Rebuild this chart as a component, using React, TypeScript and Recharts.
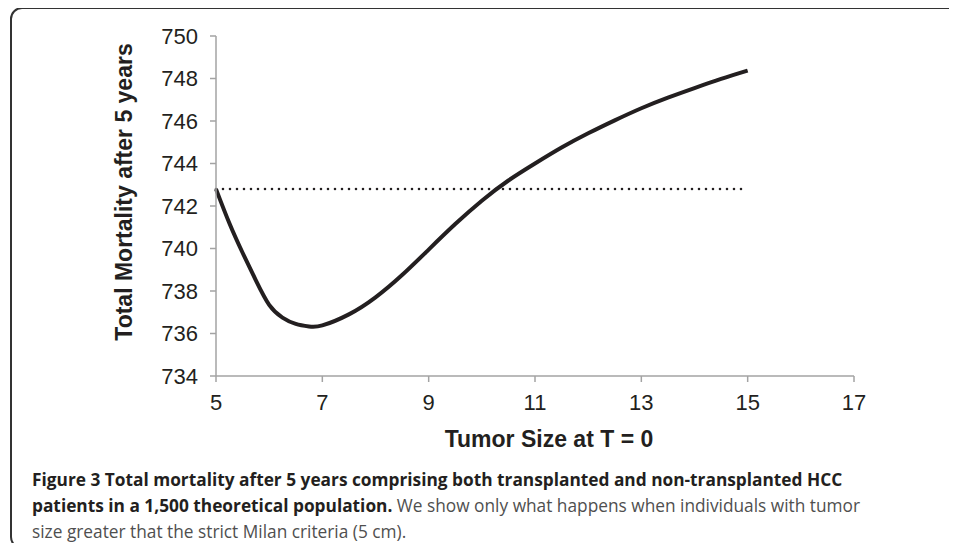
import { Line, LineChart, XAxis, YAxis } from 'recharts'

const tumorSize = [5, 5.25, 5.5, 5.75, 6, 6.25, 6.5, 6.75, 7, 7.5, 8, 8.5, 9, 9.5, 10, 10.5, 11, 11.5, 12, 12.5, 13, 13.5, 14, 14.5, 15]
const mortality = [742.8, 741.2, 739.8, 738.5, 737.35, 736.75, 736.45, 736.33, 736.38, 736.9, 737.7, 738.75, 739.95, 741.15, 742.25, 743.2, 744.0, 744.75, 745.42, 746.03, 746.6, 747.1, 747.55, 747.98, 748.37]
const baselineSize = [5, 15]
const baselineValue = 742.8
const xTicks = [5, 7, 9, 11, 13, 15, 17]
const yTicks = [734, 736, 738, 740, 742, 744, 746, 748, 750]

const curve = tumorSize.map((size, i) => ({ size, value: mortality[i] }))
const baseline = baselineSize.map((size) => ({ size, value: baselineValue }))

const axisColor = '#a3a3a3'
const textColor = '#231f20'
const tickStyle = { fill: textColor, fontSize: 22, fontFamily: 'Liberation Sans, Arial, sans-serif' }

export default function App() {
  return (
    <div style={{ position: 'relative', width: 957, height: 551, margin: -8, overflow: 'hidden', background: '#fff' }}>
      <div
        style={{
          position: 'absolute',
          left: 10,
          top: 7,
          width: 990,
          height: 542,
          border: '2px solid #333',
          borderRadius: 12,
          boxSizing: 'border-box',
        }}
      />
      <div style={{ position: 'absolute', left: 0, top: 0 }}>
        <LineChart width={957} height={420} margin={{ top: 36, right: 103, bottom: 0, left: 0 }}>
          <XAxis
            type="number"
            dataKey="size"
            domain={[5, 17]}
            ticks={xTicks}
            height={44}
            tick={tickStyle}
            tickSize={6}
            tickMargin={12}
            stroke={axisColor}
            strokeWidth={1.5}
          />
          <YAxis
            type="number"
            dataKey="value"
            domain={[734, 750]}
            ticks={yTicks}
            width={216}
            tick={tickStyle}
            tickSize={6}
            tickMargin={12}
            stroke={axisColor}
            strokeWidth={1.5}
          />
          <Line
            data={baseline}
            dataKey="value"
            stroke={textColor}
            strokeWidth={2.6}
            strokeDasharray="0 7"
            strokeLinecap="round"
            dot={false}
            isAnimationActive={false}
          />
          <Line
            data={curve}
            dataKey="value"
            type="natural"
            stroke={textColor}
            strokeWidth={4}
            dot={false}
            isAnimationActive={false}
          />
        </LineChart>
      </div>
      <div
        style={{
          position: 'absolute',
          left: 124,
          top: 192,
          transform: 'translate(-50%, -50%) rotate(-90deg)',
          whiteSpace: 'nowrap',
          fontFamily: 'Liberation Sans, Arial, sans-serif',
          fontWeight: 'bold',
          fontSize: 23,
          color: textColor,
        }}
      >
        Total Mortality after 5 years
      </div>
      <div
        style={{
          position: 'absolute',
          left: 549,
          top: 439,
          transform: 'translate(-50%, -50%)',
          whiteSpace: 'nowrap',
          fontFamily: 'Liberation Sans, Arial, sans-serif',
          fontWeight: 'bold',
          fontSize: 23,
          color: textColor,
        }}
      >
        Tumor Size at T = 0
      </div>
      <div
        style={{
          position: 'absolute',
          left: 32,
          top: 467,
          fontFamily: 'Open Sans, sans-serif',
          fontSize: 17.3,
          lineHeight: '26px',
          color: '#4f4f4f',
          whiteSpace: 'nowrap',
        }}
      >
        <b style={{ color: textColor }}>
          Figure 3 Total mortality after 5 years comprising both transplanted and non-transplanted HCC
        </b>
        <br />
        <b style={{ color: textColor }}>patients in a 1,500 theoretical population.</b> We show only what happens when individuals with tumor
        <br />
        size greater that the strict Milan criteria (5 cm).
      </div>
    </div>
  )
}
